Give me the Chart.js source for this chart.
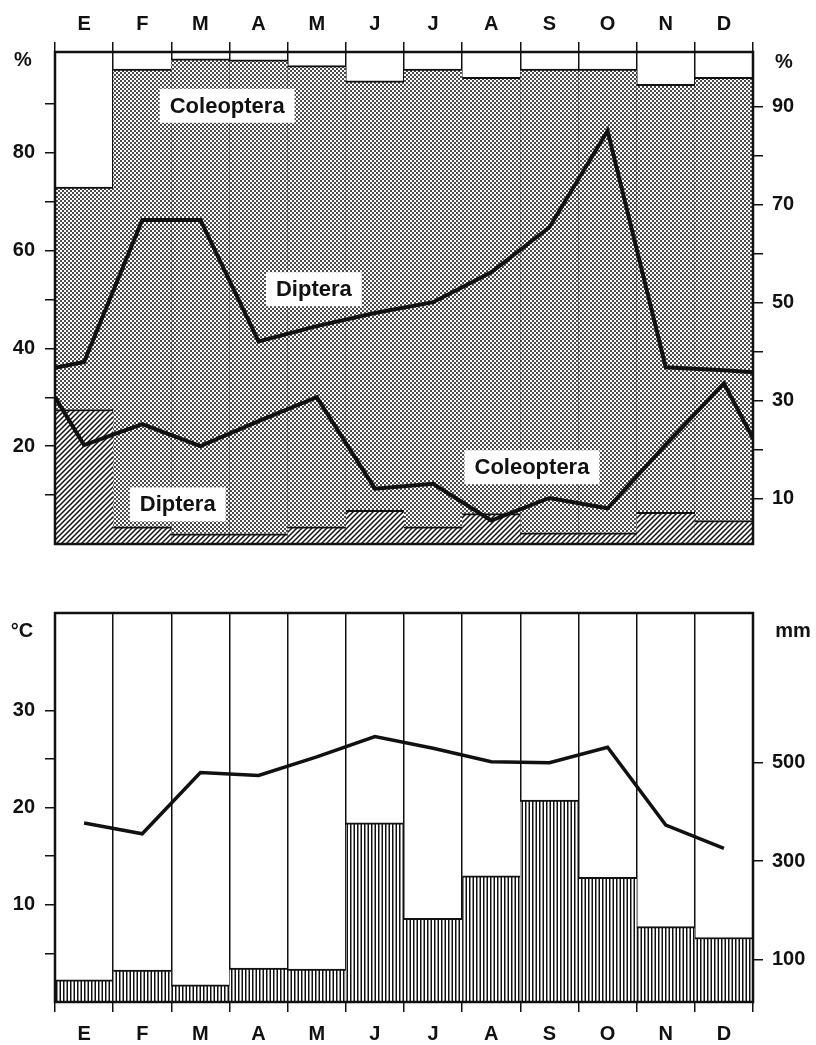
<!DOCTYPE html>
<html>
<head>
<meta charset="utf-8">
<script src="https://cdn.jsdelivr.net/npm/chart.js@4"></script>
<style>
body { margin: 0; background: #fff; width: 816px; height: 1045px; position: relative; overflow: hidden; }
#top { position: absolute; left: 0; top: 0; }
#bottom { position: absolute; left: 0; top: 570px; }
</style>
</head>
<body>
<canvas id="top" width="816" height="570"></canvas>
<canvas id="bottom" width="816" height="475"></canvas>
<script>
const months = ["E","F","M","A","M","J","J","A","S","O","N","D"];

// top panel, bars (% of catch)
const dipteraBar = [27.5,3.5,2.1,2.1,3.5,6.9,3.5,6.2,2.3,2.3,6.5,4.8];
const coleopteraBar = [45.5,93.6,97.1,96.9,94.3,87.8,93.6,89.2,94.8,94.8,87.5,90.6];

// top panel, lines (right % axis) - positions in month units, edges included
const linePos = [0,0.5,1.5,2.5,3.5,4.5,5.5,6.5,7.5,8.5,9.5,10.5,11.5,12];
const dipteraLine = [36.7,37.9,66.9,66.9,42.1,45.2,47.9,50.1,56.2,65.4,85.1,36.8,36.2,35.8];
const coleopteraLine = [30.7,20.9,25.2,20.7,25.8,30.7,12.0,13.0,5.5,10.1,8.0,21.0,33.5,22.3];

const leftPctTicks = [10,20,30,40,50,60,70,80,90];
const rightPctTicks = [10,20,30,40,50,60,70,80,90];

// bottom panel
const rainMm = [59,79,49,83,81,378,184,270,424,267,167,145];
const tempC = [18.4,17.3,23.6,23.3,25.2,27.3,26.1,24.7,24.6,26.2,18.2,15.8];
const tempTicks = [5,10,15,20,25,30];
const rainTicks = [100,300,500];

const ink = '#111';
const font = { family: '"Liberation Sans", Arial, sans-serif', weight: 'bold', size: 20 };

function makePattern(w, h, draw) {
  const c = document.createElement('canvas');
  c.width = w; c.height = h;
  const g = c.getContext('2d');
  g.fillStyle = '#fff';
  g.fillRect(0, 0, w, h);
  draw(g);
  return c.getContext('2d').createPattern(c, 'repeat');
}
const ctxTop = document.getElementById('top').getContext('2d');
const dots = makePattern(4, 4, g => {
  g.fillStyle = '#4a4a4a';
  g.fillRect(0, 0, 2, 2);
  g.fillRect(2, 2, 2, 2);
});
const hatch = makePattern(5, 5, g => {
  g.strokeStyle = '#111';
  g.lineWidth = 1.5;
  g.beginPath();
  g.moveTo(-1, 6); g.lineTo(6, -1);
  g.moveTo(-1, 1); g.lineTo(1, -1);
  g.moveTo(4, 6); g.lineTo(6, 4);
  g.stroke();
});
const stripes = makePattern(7, 7, g => {
  g.fillStyle = '#111';
  g.fillRect(0, 0, 1.5, 7);
  g.fillRect(3.5, 0, 1.5, 7);
});

function fixedTicks(list) {
  return scale => { scale.ticks = list.map(v => ({ value: v })); };
}

const frame = {
  id: 'frame',
  afterDraw(chart, args, opts) {
    const { ctx, chartArea: a } = chart;
    ctx.save();
    ctx.strokeStyle = ink;
    ctx.lineWidth = 2.5;
    ctx.strokeRect(a.left, a.top, a.right - a.left, a.bottom - a.top);
    ctx.font = 'bold 20px "Liberation Sans", Arial, sans-serif';
    ctx.fillStyle = ink;
    ctx.textBaseline = 'middle';
    ctx.textAlign = 'center';
    (opts.units || []).forEach(u => ctx.fillText(u.text, u.x, a.top + u.dy));
    ctx.restore();
  }
};

const tags = {
  id: 'tags',
  afterDatasetsDraw(chart, args, opts) {
    const { ctx } = chart;
    const xs = chart.scales.xl, ys = chart.scales.y;
    ctx.save();
    ctx.font = 'bold 22px "Liberation Sans", Arial, sans-serif';
    ctx.textAlign = 'center';
    ctx.textBaseline = 'middle';
    opts.items.forEach(t => {
      const px = xs.getPixelForValue(t.x), py = ys.getPixelForValue(t.y);
      const w = ctx.measureText(t.text).width + 20;
      ctx.fillStyle = '#fff';
      ctx.fillRect(px - w / 2, py - 17, w, 34);
      ctx.fillStyle = ink;
      ctx.fillText(t.text, px, py + 1);
    });
    ctx.restore();
  }
};

new Chart(ctxTop, {
  type: 'bar',
  data: {
    labels: months,
    datasets: [
      { type: 'line', label: 'Diptera', xAxisID: 'xl', yAxisID: 'y2', order: 0,
        data: linePos.map((x, i) => ({ x, y: dipteraLine[i] })),
        borderColor: ink, borderWidth: 4, pointRadius: 0, tension: 0, fill: false },
      { type: 'line', label: 'Coleoptera', xAxisID: 'xl', yAxisID: 'y2', order: 0,
        data: linePos.map((x, i) => ({ x, y: coleopteraLine[i] })),
        borderColor: ink, borderWidth: 4, pointRadius: 0, tension: 0, fill: false },
      { label: 'Diptera %', data: dipteraBar, backgroundColor: hatch, order: 1, grouped: false,
        borderColor: ink, borderWidth: { top: 2, left: 0, right: 0, bottom: 0 },
        barPercentage: 1, categoryPercentage: 1 },
      { label: 'Coleoptera %', data: coleopteraBar, backgroundColor: dots, order: 1, grouped: false,
        borderColor: ink, borderWidth: { top: 2, left: 0, right: 0, bottom: 0 },
        barPercentage: 1, categoryPercentage: 1 }
    ]
  },
  options: {
    responsive: false,
    animation: false,
    layout: { padding: { top: 0, bottom: 26, left: 0, right: 0 } },
    plugins: {
      legend: { display: false },
      tooltip: { enabled: false },
      frame: { units: [{ text: '%', x: 23, dy: 8 }, { text: '%', x: 784, dy: 10 }] },
      tags: { items: [
        { text: 'Coleoptera', x: 2.96, y: 89.6 },
        { text: 'Diptera', x: 4.45, y: 52.1 },
        { text: 'Coleoptera', x: 8.2, y: 15.7 },
        { text: 'Diptera', x: 2.11, y: 8.1 }
      ] }
    },
    scales: {
      x: {
        position: 'top', stacked: true, offset: true, z: 1,
        grid: { offset: true, color: ink, lineWidth: 1.5, tickLength: 10 },
        border: { display: false },
        ticks: { color: ink, font, padding: 6 },
        afterFit: s => { s.height = 52; }
      },
      xl: { type: 'linear', display: false, offset: false, min: 0, max: 12, grid: { offset: false } },
      y: {
        position: 'left', stacked: true, min: 0, max: 100.6,
        afterBuildTicks: fixedTicks(leftPctTicks),
        grid: { drawOnChartArea: false, color: ink, lineWidth: 1.5, tickLength: 10 },
        border: { display: false },
        ticks: { color: ink, font, padding: 10, callback: v => (v % 20 === 0 ? v : '') },
        afterFit: s => { s.width = 55; }
      },
      y2: {
        position: 'right', min: 0.7, max: 101.2,
        afterBuildTicks: fixedTicks(rightPctTicks),
        grid: { drawOnChartArea: false, color: ink, lineWidth: 1.5, tickLength: 10 },
        border: { display: false },
        ticks: { color: ink, font, padding: 9, callback: v => (v % 20 === 10 ? v : '') },
        afterFit: s => { s.width = 63; }
      }
    }
  },
  plugins: [frame, tags]
});

new Chart(document.getElementById('bottom').getContext('2d'), {
  type: 'bar',
  data: {
    labels: months,
    datasets: [
      { type: 'line', label: '°C', data: tempC, yAxisID: 'y', order: 0,
        borderColor: ink, borderWidth: 3.5, pointRadius: 0, tension: 0, fill: false },
      { label: 'mm', data: rainMm, yAxisID: 'y2', order: 1, backgroundColor: stripes,
        borderColor: ink, borderWidth: { top: 2, left: 0, right: 0, bottom: 0 },
        barPercentage: 1, categoryPercentage: 1 }
    ]
  },
  options: {
    responsive: false,
    animation: false,
    layout: { padding: { top: 43, bottom: 0, left: 0, right: 0 } },
    plugins: {
      legend: { display: false },
      tooltip: { enabled: false },
      frame: { units: [{ text: '°C', x: 22, dy: 18 }, { text: 'mm', x: 793, dy: 18 }] }
    },
    scales: {
      x: {
        position: 'bottom', offset: true, z: 1,
        grid: { offset: true, color: ink, lineWidth: 1.5, tickLength: 10 },
        border: { display: false },
        ticks: { color: ink, font, padding: 10 },
        afterFit: s => { s.height = 43; }
      },
      y: {
        position: 'left', min: 0, max: 40,
        afterBuildTicks: fixedTicks(tempTicks),
        grid: { drawOnChartArea: false, color: ink, lineWidth: 1.5, tickLength: 10 },
        border: { display: false },
        ticks: { color: ink, font, padding: 10, callback: v => (v % 10 === 0 ? v : '') },
        afterFit: s => { s.width = 55; }
      },
      y2: {
        position: 'right', min: 14, max: 804,
        afterBuildTicks: fixedTicks(rainTicks),
        grid: { drawOnChartArea: false, color: ink, lineWidth: 1.5, tickLength: 10 },
        border: { display: false },
        ticks: { color: ink, font, padding: 9 },
        afterFit: s => { s.width = 63; }
      }
    }
  },
  plugins: [frame]
});
</script>
</body>
</html>
